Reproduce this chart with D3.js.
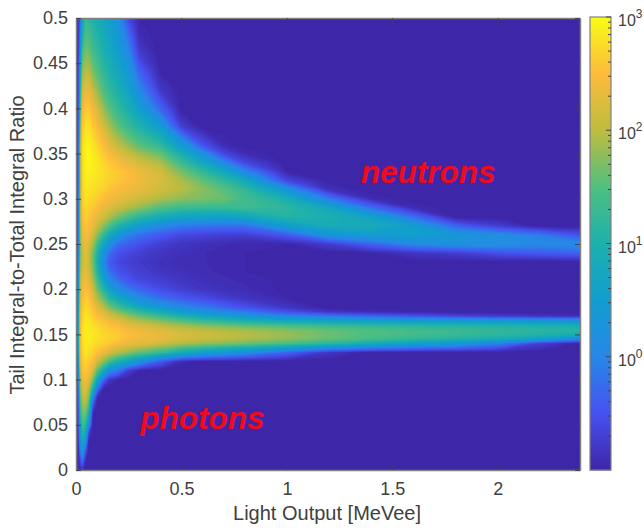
<!DOCTYPE html>
<html>
<head>
<meta charset="utf-8">
<script src="https://cdn.jsdelivr.net/npm/d3@7"></script>
<style>
html, body { margin: 0; padding: 0; background: #fff; }
text { font-family: "Liberation Sans", Arial, sans-serif; }
</style>
</head>
<body>
<div id="chart"></div>
<script>
'use strict';

// grid positions ------------------------------------------
const lightOutput = [0, 0.012, 0.02, 0.03, 0.045, 0.06, 0.08, 0.1, 0.13, 0.16, 0.2, 0.25, 0.3, 0.4, 0.5, 0.6, 0.7, 0.8, 1, 1.2, 1.4, 1.6, 1.8, 2, 2.2, 2.39]
const ratio = [0, 0.01, 0.02, 0.03, 0.04, 0.05, 0.06, 0.07, 0.08, 0.09, 0.1, 0.11,
               0.12, 0.13, 0.14, 0.145, 0.15, 0.155, 0.16, 0.165, 0.17, 0.175, 0.18, 0.19,
               0.2, 0.21, 0.22, 0.23, 0.24, 0.25, 0.26, 0.27, 0.28, 0.29, 0.3, 0.31,
               0.32, 0.33, 0.34, 0.35, 0.36, 0.38, 0.4, 0.42, 0.44, 0.46, 0.48, 0.5]

// log10(counts), one list per light output column, bottom to top
const logCounts = [
  [-.9,-.9,-.9,-.9,-.9,-.9,-.9,-.9,-.9,-.9,-.9,-.9,
   -.9,-.9,-.9,-.9,-.9,-.9,-.9,-.9,-.9,-.9,-.9,-.9,
   -.9,-.9,-.9,-.9,-.9,-.9,-.9,-.9,-.9,-.9,-.9,-.9,
   -.9,-.9,-.9,-.9,-.9,-.9,-.9,-.9,-.9,-.9,-.9,-.9],
  [-.9,-.9,-.9,-.8,-.8,-.7,-.7,-.6,-.5,-.4,-.2,0,
   .2,.4,.5,.5,.5,.5,.5,.4,.4,.3,.3,.2,
   .1,0,-.1,-.2,-.2,-.3,-.3,-.3,-.4,-.4,-.4,-.4,
   -.5,-.5,-.5,-.5,-.5,-.6,-.6,-.7,-.7,-.8,-.8,-.8],
  [-.9,-.6,-.2,.1,.4,.7,1,1.2,1.4,1.6,1.8,2,
   2.2,2.3,2.4,2.4,2.4,2.4,2.4,2.3,2.3,2.3,2.2,2.1,
   2,1.9,1.8,1.7,1.6,1.6,1.7,1.7,1.8,1.8,1.8,1.8,
   1.8,1.8,1.8,1.8,1.7,1.5,1.2,.9,.6,.2,-.1,-.4],
  [-.8,-.2,.4,.8,1.1,1.4,1.6,1.8,2,2.2,2.3,2.5,
   2.6,2.7,2.75,2.8,2.8,2.8,2.75,2.7,2.7,2.65,2.6,2.5,
   2.4,2.3,2.2,2.1,2.1,2.2,2.3,2.4,2.5,2.6,2.65,2.7,
   2.7,2.75,2.75,2.8,2.75,2.6,2.4,2.1,1.8,1.4,1,.7],
  [-1,-.9,-.5,.2,.8,1.2,1.6,1.9,2.1,2.3,2.5,2.65,
   2.75,2.85,2.9,2.92,2.92,2.92,2.9,2.88,2.85,2.8,2.75,2.65,
   2.55,2.45,2.35,2.3,2.3,2.4,2.5,2.6,2.7,2.75,2.8,2.85,
   2.9,2.92,2.95,2.95,2.92,2.8,2.6,2.35,2.05,1.75,1.5,1.25],
  [-1,-1,-1,-1,-.7,.2,.8,1.3,1.7,2,2.3,2.5,
   2.65,2.78,2.88,2.9,2.9,2.9,2.88,2.85,2.8,2.75,2.7,2.6,
   2.45,2.3,2.2,2.15,2.15,2.25,2.4,2.5,2.6,2.7,2.78,2.85,
   2.9,2.95,3,3,2.95,2.82,2.62,2.35,2,1.7,1.45,1.2],
  [-1,-1,-1,-1,-1,-1,-1,-.6,.1,1,1.7,2.2,
   2.5,2.7,2.82,2.85,2.88,2.85,2.8,2.75,2.7,2.62,2.55,2.35,
   2.15,1.95,1.75,1.65,1.7,1.9,2.15,2.35,2.5,2.62,2.72,2.8,
   2.85,2.9,2.92,2.9,2.85,2.65,2.42,2.1,1.75,1.45,1.25,1.05],
  [-1,-1,-1,-1,-1,-1,-1,-1,-.9,-.1,.8,1.6,
   2.2,2.55,2.75,2.8,2.82,2.8,2.72,2.65,2.55,2.45,2.3,2,
   1.7,1.4,1.15,1,1.1,1.4,1.8,2.1,2.35,2.5,2.65,2.75,
   2.82,2.85,2.85,2.8,2.72,2.5,2.2,1.85,1.55,1.3,1.1,.95],
  [-1,-1,-1,-1,-1,-1,-1,-1,-1,-.95,-.2,.9,
   1.8,2.4,2.7,2.75,2.75,2.72,2.65,2.55,2.4,2.25,2.05,1.6,
   1.15,.7,.35,.1,.3,.75,1.3,1.8,2.15,2.4,2.55,2.68,
   2.75,2.78,2.75,2.65,2.52,2.2,1.85,1.5,1.25,1.05,.9,.75],
  [-1,-1,-1,-1,-1,-1,-1,-1,-1,-1,-.8,.2,
   1.4,2.2,2.62,2.7,2.7,2.65,2.55,2.42,2.2,2,1.7,1.15,
   .6,.1,-.2,-.4,-.2,.2,.85,1.45,1.95,2.25,2.45,2.58,
   2.68,2.7,2.62,2.48,2.3,1.9,1.55,1.25,1.05,.85,.7,.55],
  [-1,-1,-1,-1,-1,-1,-1,-1,-1,-1,-.95,-.1,
   1,2,2.5,2.62,2.65,2.6,2.48,2.3,2.05,1.75,1.4,.8,
   .2,-.2,-.5,-.6,-.5,-.2,.4,1.1,1.7,2.1,2.35,2.5,
   2.6,2.62,2.5,2.3,2.05,1.6,1.25,1,.75,.55,.4,.2],
  [-1,-1,-1,-1,-1,-1,-1,-1,-1,-1,-1,-.7,
   .7,1.8,2.38,2.5,2.52,2.46,2.3,2.1,1.85,1.5,1.1,.45,
   -.1,-.45,-.6,-.7,-.6,-.4,0,.8,1.45,1.95,2.25,2.42,
   2.52,2.52,2.35,2.1,1.8,1.3,.95,.65,.4,.1,-.2,-.6],
  [-1,-1,-1,-1,-1,-1,-1,-1,-1,-1,-1,-.95,
   .3,1.6,2.3,2.42,2.45,2.38,2.22,1.95,1.65,1.25,.8,.15,
   -.3,-.6,-.7,-.75,-.7,-.5,-.2,.5,1.2,1.8,2.15,2.35,
   2.42,2.4,2.2,1.9,1.55,1.05,.55,.1,-.3,-.7,-.9,-.95],
  [-1,-1,-1,-1,-1,-1,-1,-1,-1,-1,-1,-1,
   -.4,1.3,2.15,2.32,2.35,2.27,2.05,1.75,1.35,.9,.4,-.2,
   -.55,-.7,-.8,-.85,-.8,-.7,-.4,.1,.9,1.5,1.95,2.15,
   2.22,2.18,1.95,1.6,1.2,.5,-.3,-.75,-.95,-1,-1,-1],
  [-1,-1,-1,-1,-1,-1,-1,-1,-1,-1,-1,-1,
   -.9,.9,1.98,2.18,2.22,2.12,1.88,1.5,1.05,.55,.1,-.4,
   -.7,-.8,-.85,-.9,-.85,-.8,-.6,-.1,.7,1.35,1.8,2,
   1.95,1.7,1.35,.95,.45,-.7,-1,-1,-1,-1,-1,-1],
  [-1,-1,-1,-1,-1,-1,-1,-1,-1,-1,-1,-1,
   -1,.6,1.85,2.1,2.14,2.03,1.75,1.3,.8,.3,-.1,-.55,
   -.8,-.85,-.9,-.9,-.9,-.85,-.65,-.15,.65,1.3,1.72,1.8,
   1.6,1.25,.8,.2,-.5,-1,-1,-1,-1,-1,-1,-1],
  [-1,-1,-1,-1,-1,-1,-1,-1,-1,-1,-1,-1,
   -1,.4,1.75,2.03,2.07,1.95,1.65,1.15,.6,.1,-.3,-.7,
   -.85,-.9,-.92,-.95,-.95,-.9,-.7,-.2,.6,1.3,1.65,1.55,
   1.25,.8,.1,-.6,-.9,-1,-1,-1,-1,-1,-1,-1],
  [-1,-1,-1,-1,-1,-1,-1,-1,-1,-1,-1,-1,
   -1,.2,1.65,1.95,2,1.9,1.55,1,.4,-.1,-.5,-.8,
   -.9,-.92,-.95,-.95,-.95,-.95,-.7,-.2,.75,1.35,1.4,1.25,
   .85,.1,-.6,-.9,-1,-1,-1,-1,-1,-1,-1,-1],
  [-1,-1,-1,-1,-1,-1,-1,-1,-1,-1,-1,-1,
   -1,-.3,1.45,1.8,1.85,1.75,1.4,.8,.05,-.5,-.8,-.95,
   -.97,-.97,-.97,-.97,-1,-.95,-.4,.5,1.1,1.2,.95,.35,
   -.6,-.95,-1,-1,-1,-1,-1,-1,-1,-1,-1,-1],
  [-1,-1,-1,-1,-1,-1,-1,-1,-1,-1,-1,-1,
   -1,-.8,1.2,1.6,1.65,1.6,1.3,.7,-.1,-.8,-1,-1,
   -1,-1,-1,-1,-1,-.7,.3,.9,1,.75,-.1,-.85,
   -1,-1,-1,-1,-1,-1,-1,-1,-1,-1,-1,-1],
  [-1,-1,-1,-1,-1,-1,-1,-1,-1,-1,-1,-1,
   -1,-1,.9,1.4,1.5,1.48,1.2,.6,-.3,-.9,-1,-1,
   -1,-1,-1,-1,-.95,-.3,.55,.85,.65,-.2,-.9,-1,
   -1,-1,-1,-1,-1,-1,-1,-1,-1,-1,-1,-1],
  [-1,-1,-1,-1,-1,-1,-1,-1,-1,-1,-1,-1,
   -1,-1,.6,1.25,1.4,1.38,1.15,.5,-.45,-.95,-1,-1,
   -1,-1,-1,-1,-.8,.1,.6,.55,-.2,-.9,-1,-1,
   -1,-1,-1,-1,-1,-1,-1,-1,-1,-1,-1,-1],
  [-1,-1,-1,-1,-1,-1,-1,-1,-1,-1,-1,-1,
   -1,-1,.4,1.1,1.3,1.3,1.1,.45,-.6,-1,-1,-1,
   -1,-1,-1,-1,-.7,.25,.4,-.3,-1,-1,-1,-1,
   -1,-1,-1,-1,-1,-1,-1,-1,-1,-1,-1,-1],
  [-1,-1,-1,-1,-1,-1,-1,-1,-1,-1,-1,-1,
   -1,-1,0,.95,1.2,1.22,1.05,.4,-.7,-1,-1,-1,
   -1,-1,-1,-1,-.5,.2,.15,-.7,-1,-1,-1,-1,
   -1,-1,-1,-1,-1,-1,-1,-1,-1,-1,-1,-1],
  [-1,-1,-1,-1,-1,-1,-1,-1,-1,-1,-1,-1,
   -1,-1,-.7,.6,1.1,1.15,1,.35,-.8,-1,-1,-1,
   -1,-1,-1,-1,-.4,.1,-.1,-1,-1,-1,-1,-1,
   -1,-1,-1,-1,-1,-1,-1,-1,-1,-1,-1,-1],
  [-1,-1,-1,-1,-1,-1,-1,-1,-1,-1,-1,-1,
   -1,-1,-1,.1,.95,1.1,.95,.3,-.85,-1,-1,-1,
   -1,-1,-1,-1,-.3,.15,-.5,-1,-1,-1,-1,-1,
   -1,-1,-1,-1,-1,-1,-1,-1,-1,-1,-1,-1]
]

const xTicks = [0, 0.5, 1, 1.5, 2]
const yTicks = [0, 0.05, 0.1, 0.15, 0.2, 0.25, 0.3, 0.35, 0.4, 0.45, 0.5]
const colorTicks = [1, 10, 100, 1000]
const colorExponents = [0, 1, 2, 3]
const parulaColors = ['#3e26a8', '#4752f0', '#2887e8', '#129dd0', '#1cb0ae', '#50bf80', '#bdbc40', '#fdbb3c', '#f9fb15']
const annotations = [
    {label: 'neutrons', xv: 1.35, yv: 0.317},
    {label: 'photons', xv: 0.305, yv: 0.045}
]

// layout
const width = 644
const height = 528
const plotLeft = 76, plotRight = 580, plotTop = 18, plotBottom = 470
const barLeft = 590, barRight = 611, barTop = 17
const minCount = 0.1
const textColor = '#404040'
const boxColor = '#808080'

if (logCounts.some(function(col){return col.length != ratio.length})) {
    throw new Error('bad column length')
}

var svg = d3.select('#chart').append('svg')
    .attr('width', width)
    .attr('height', height)
    .style('display', 'block')

var x = d3.scaleLinear().domain([0, 2.39]).range([plotLeft, plotRight])
var y = d3.scaleLinear().domain([0, 0.5]).range([plotBottom, plotTop])
var c = d3.scaleLog().domain([minCount, 1000]).range([plotBottom, barTop])

// colour runs along log10(counts)
var parula = d3.scaleLinear()
    .domain(parulaColors.map(function(d, i){return i / (parulaColors.length - 1)}))
    .range(parulaColors)
    .clamp(true)
var logMin = Math.log10(minCount)
var colorOf = function(v){return parula((v - logMin) / (3 - logMin))}

// HEAT MAP ---------------------
// d3.contours works on a flat row-major list, and on grid indexes
var n = lightOutput.length, m = ratio.length
var flat = new Array(n * m)
logCounts.forEach(function(col, i){
    col.forEach(function(v, j){flat[i + j * n] = v})
})

var gridX = d3.scaleLinear()
    .domain(lightOutput.map(function(d, i){return i + 0.5}))
    .range(lightOutput.map(function(d){return x(d)}))
    .clamp(true)
var gridY = d3.scaleLinear()
    .domain(ratio.map(function(d, i){return i + 0.5}))
    .range(ratio.map(function(d){return y(d)}))
    .clamp(true)
var path = d3.geoPath(d3.geoTransform({
    point: function(px, py){this.stream.point(gridX(px), gridY(py))}
}))

svg.append('rect')
    .attr('x', plotLeft).attr('y', plotTop)
    .attr('width', plotRight - plotLeft).attr('height', plotBottom - plotTop)
    .attr('fill', parulaColors[0])

var levels = d3.range(-0.95, 3.01, 0.04)
svg.append('g').selectAll('path')
    .data(d3.contours().size([n, m]).smooth(true).thresholds(levels)(flat))
    .enter().append('path')
    .attr('d', path)
    .attr('fill', function(d){return colorOf(d.value)})

// AXES ---------------------
var fmt = function(d){return String(d)}
var styleAxis = function(g, fontSize){
    g.select('.domain').attr('stroke', boxColor).attr('stroke-width', 1.5)
    g.selectAll('.tick line').attr('stroke', '#444444').attr('stroke-width', 1)
    g.selectAll('.tick text').attr('fill', textColor).style('font-size', fontSize + 'px')
}

svg.append('g').attr('transform', 'translate(0,' + plotBottom + ')')
    .call(d3.axisBottom(x).tickValues(xTicks).tickFormat(fmt).tickSize(-5).tickPadding(12).tickSizeOuter(0))
    .call(styleAxis, 18)
svg.append('g').attr('transform', 'translate(0,' + plotTop + ')')
    .call(d3.axisTop(x).tickValues(xTicks).tickFormat('').tickSize(-5).tickSizeOuter(0))
    .call(styleAxis, 18)
svg.append('g').attr('transform', 'translate(' + plotLeft + ',0)')
    .call(d3.axisLeft(y).tickValues(yTicks).tickFormat(fmt).tickSize(-5).tickPadding(8).tickSizeOuter(0))
    .call(styleAxis, 18)
svg.append('g').attr('transform', 'translate(' + plotRight + ',0)')
    .call(d3.axisRight(y).tickValues(yTicks).tickFormat('').tickSize(-5).tickSizeOuter(0))
    .call(styleAxis, 18)

svg.append('text')
    .attr('x', (plotLeft + plotRight) / 2 - 1)
    .attr('y', 520)
    .attr('text-anchor', 'middle')
    .attr('fill', textColor)
    .attr('font-size', 20)
    .text('Light Output [MeVee]')

svg.append('text')
    .attr('transform', 'translate(24,' + ((plotTop + plotBottom) / 2 + 1) + ') rotate(-90)')
    .attr('text-anchor', 'middle')
    .attr('fill', textColor)
    .attr('font-size', 20)
    .text('Tail Integral-to-Total Integral Ratio')

// COLOUR BAR ---------------------
var barSteps = d3.range(plotBottom, barTop, -1)
svg.append('g').selectAll('rect')
    .data(barSteps)
    .enter().append('rect')
    .attr('x', barLeft)
    .attr('y', function(d){return d - 1})
    .attr('width', barRight - barLeft)
    .attr('height', 1.5)
    .attr('fill', function(d){return colorOf(Math.log10(c.invert(d - 0.5)))})

svg.append('rect')
    .attr('x', barLeft).attr('y', barTop)
    .attr('width', barRight - barLeft).attr('height', plotBottom - barTop)
    .attr('fill', 'none')
    .attr('stroke', boxColor)
    .attr('stroke-width', 1.2)

svg.append('g').selectAll('line')
    .data(c.ticks().filter(function(d){return d >= 0.2}))
    .enter().append('line')
    .attr('x1', barRight)
    .attr('x2', function(d){return colorTicks.indexOf(d) >= 0 ? barRight - 5 : barRight - 3})
    .attr('y1', function(d){return c(d)})
    .attr('y2', function(d){return c(d)})
    .attr('stroke', '#444444')
    .attr('stroke-width', 1)

var barLabels = svg.append('g').selectAll('text')
    .data(colorExponents)
    .enter().append('text')
    .attr('x', barRight + 7)
    .attr('y', function(d){return c(Math.pow(10, d)) + 9})
    .attr('fill', textColor)
    .attr('font-size', 16)
barLabels.append('tspan').text('10')
barLabels.append('tspan')
    .attr('dy', -8)
    .attr('font-size', 12)
    .text(function(d){return d})

// ANNOTATIONS ---------------------
svg.append('g').selectAll('text')
    .data(annotations)
    .enter().append('text')
    .attr('x', function(d){return x(d.xv)})
    .attr('y', function(d){return y(d.yv)})
    .attr('fill', '#ee0c1c')
    .attr('font-size', 31.5)
    .attr('font-weight', 'bold')
    .attr('font-style', 'italic')
    .text(function(d){return d.label})
</script>
</body>
</html>
